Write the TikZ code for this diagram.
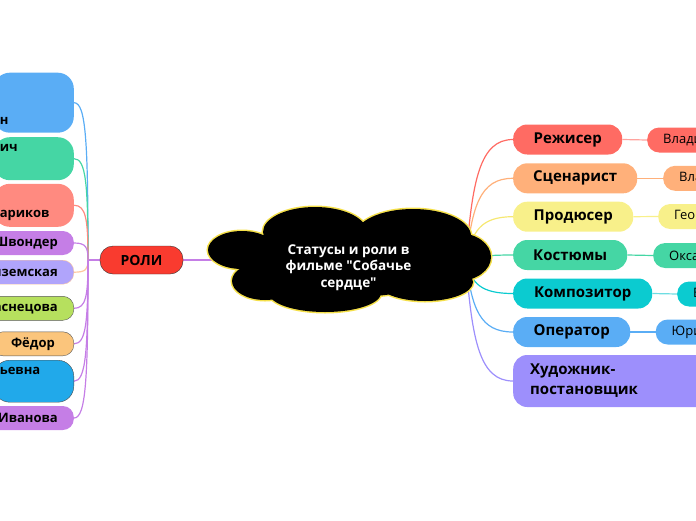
\documentclass[tikz,border=0pt]{standalone}
\usepackage{fontspec}
\setmainfont{Open Sans}[BoldFont={Open Sans Bold}, Ligatures=TeXOff]
\usepackage{tikz}
\usetikzlibrary{positioning, calc, backgrounds}

\definecolor{cRed}{HTML}{FF6B63}
\definecolor{cRedL}{HTML}{FFA39E}
\definecolor{cOrange}{HTML}{FFB07A}
\definecolor{cYellow}{HTML}{F8F08A}
\definecolor{cYellowL}{HTML}{F6E872}
\definecolor{cGreen}{HTML}{45D6A4}
\definecolor{cCyan}{HTML}{0BCBD0}
\definecolor{cCyanL}{HTML}{6EDDE2}
\definecolor{cBlue}{HTML}{5AADF5}
\definecolor{cViolet}{HTML}{9D8FFC}
\definecolor{lSalmon}{HTML}{FF8A80}
\definecolor{lPurple}{HTML}{C57EE6}
\definecolor{lLav}{HTML}{B0A4FB}
\definecolor{lLavB}{HTML}{FFC79E}
\definecolor{lLime}{HTML}{B6E05E}
\definecolor{lPeach}{HTML}{FBC57C}
\definecolor{lSky}{HTML}{21A9EA}
\definecolor{cRoli}{HTML}{F93B2F}
\definecolor{cloudEdge}{HTML}{F5E04A}

\begin{document}
\begin{tikzpicture}[x=1pt, y=-1pt,
        topic/.style={rectangle, rounded corners=14pt, minimum height=30pt, anchor=west, font=\fontsize{15}{20}\selectfont\bfseries},
        person/.style={rectangle, rounded corners=12pt, minimum height=25pt, inner xsep=16pt, anchor=west, font=\fontsize{13}{16}\selectfont},
        role/.style={rectangle, rounded corners=11pt, minimum height=24pt, inner xsep=16pt, anchor=east, font=\fontsize{13}{16}\selectfont\bfseries},
        rolebig/.style={role, rounded corners=16pt, inner xsep=6pt, text width=68pt, align=left},
        link/.style={line width=1.2pt},
        puffs/.style={insert path={
            (242,250) ellipse [x radius=34, y radius=19]
            (265,281) ellipse [x radius=33, y radius=19]
            (325,293) ellipse [x radius=56, y radius=19]
            (425,282) ellipse [x radius=48, y radius=19]
            (458,257) ellipse [x radius=33, y radius=24]
            (413,236) ellipse [x radius=58, y radius=27]
            (315,232) ellipse [x radius=52, y radius=25]
            (350,262) ellipse [x radius=105, y radius=35]}}
    ]
        \useasboundingbox (0,0) rectangle (696,520);

        % centre cloud
        \draw[cloudEdge, line width=3pt, puffs];
        \fill[black, puffs];
        \node[font=\fontsize{13.5}{16.5}\selectfont\bfseries, text=white, align=center] (theme) at (348.5,267.5) {Статусы и роли в\\фильме "Собачье\\сердце"};
        \node[rectangle, rounded corners=13pt, fill=cRoli, draw=black!80, minimum width=83pt, minimum height=28pt, font=\fontsize{14}{16}\selectfont\bfseries] (roli) at (141.5,260) {РОЛИ};

        % right side
        \node[topic, fill=cRed, minimum width=109pt] (rez) at (513,139.5) {Режисер};
        \node[topic, fill=cOrange, minimum width=124pt] (scen) at (513,178.3) {Сценарист};
        \node[topic, fill=cYellow, minimum width=120pt] (prod) at (513,216.7) {Продюсер};
        \node[topic, fill=cGreen, minimum width=114pt] (kost) at (513,255) {Костюмы};
        \node[topic, fill=cCyan, minimum width=139pt] (komp) at (513,293.5) {Композитор};
        \node[topic, fill=cBlue, minimum width=117pt] (oper) at (513,332) {Оператор};
        \node[topic, fill=cViolet, minimum height=52pt, inner xsep=17pt, text width=200pt, align=left] (hud) at (513,381) {Художник-\\постановщик};

        \node[person, fill=cRed] (bortko) at (647,140) {Владимир Бортко};
        \node[person, fill=cOrange] (bortkoS) at (663,178.3) {Владимир Бортко};
        \node[person, fill=cYellow] (georg) at (658,216.5) {Георгий};
        \node[person, fill=cGreen] (oksana) at (653,255.5) {Оксана};
        \node[person, fill=cCyan] (dashk) at (677,294) {Владимир Дашкевич};
        \node[person, fill=cBlue] (yuri) at (655.5,332) {Юрий Шайгарданов};

        % left side
        \node[rolebig, fill=cBlue, minimum height=60pt] (preob) at (74,102.7) {\strut\\\strut\\н};
        \node[rolebig, fill=cGreen, minimum height=43pt] (borm) at (74,158.7) {ич\\\strut};
        \node[rolebig, fill=lSalmon, minimum height=43pt] (shar) at (74,205.3) {\strut\\ариков};
        \node[role, fill=lPurple] (shvonder) at (74,243) {Швондер};
        \node[role, fill=lLav, draw=lLavB] (vyaz) at (74,272.2) {Вяземская};
        \node[role, fill=lLime, draw=gray!70!black] (vasn) at (74,308.3) {Васнецова};
        \node[role, fill=lPeach, draw=gray!70!black, inner xsep=19pt] (fedor) at (74,343.8) {Фёдор};
        \node[rolebig, fill=lSky, draw=black!70, minimum height=42pt] (zina) at (74,381.2) {ьевна\\\strut};
        \node[role, fill=lPurple] (ivan) at (74,418) {Иванова};

        \begin{scope}[on background layer]
            \coordinate (hub) at (466,262);
            \coordinate (trunk) at (88,260);
            \draw[link, draw=lPurple] (roli.east) -- (theme.center |- roli.east);
            \draw[link, draw=lPurple] (roli.west) -- (trunk);

            \draw[link, draw=cRed] (hub) .. controls ($(hub)!0.67!(hub|-rez.west)+(6,0)$) and ($(rez.west)+(-33,0)$) .. (rez.west);
            \draw[link, draw=cOrange] (hub) .. controls ($(hub)!0.67!(hub|-scen.west)+(6,0)$) and ($(scen.west)+(-33,0)$) .. (scen.west);
            \draw[link, draw=cYellowL] (hub) .. controls ($(hub)!0.67!(hub|-prod.west)+(6,0)$) and ($(prod.west)+(-33,0)$) .. (prod.west);
            \draw[link, draw=cGreen] (hub) .. controls ($(hub)!0.67!(hub|-kost.west)+(6,0)$) and ($(kost.west)+(-33,0)$) .. (kost.west);
            \draw[link, draw=cCyan] (hub) .. controls ($(hub)!0.67!(hub|-komp.west)+(6,0)$) and ($(komp.west)+(-33,0)$) .. (komp.west);
            \draw[link, draw=cBlue] (hub) .. controls ($(hub)!0.67!(hub|-oper.west)+(6,0)$) and ($(oper.west)+(-33,0)$) .. (oper.west);
            \draw[link, draw=cViolet] (hub) .. controls ($(hub)!0.67!(hub|-hud.west)+(6,0)$) and ($(hud.west)+(-33,0)$) .. (hud.west);

            \draw[link, draw=cRedL] (rez.east) -- (bortko.west);
            \draw[link, draw=cOrange] (scen.east) -- (bortkoS.west);
            \draw[link, draw=cYellow] (prod.east) -- (georg.west);
            \draw[link, draw=cGreen] (kost.east) -- (oksana.west);
            \draw[link, draw=cCyanL] (komp.east) -- (dashk.west);
            \draw[link, draw=cBlue] (oper.east) -- (yuri.west);

            \draw[link, draw=cBlue] (preob.east) .. controls +(12,0) and ($(trunk)!0.75!(trunk|-preob.east)$) .. (trunk);
            \draw[link, draw=cGreen] (borm.east) .. controls +(12,0) and ($(trunk)!0.75!(trunk|-borm.east)$) .. (trunk);
            \draw[link, draw=lSalmon] (shar.east) .. controls +(12,0) and ($(trunk)!0.75!(trunk|-shar.east)$) .. (trunk);
            \draw[link, draw=lPurple] (shvonder.east) .. controls +(12,0) and ($(trunk)!0.75!(trunk|-shvonder.east)$) .. (trunk);
            \draw[link, draw=lLavB] (vyaz.east) .. controls +(12,0) and ($(trunk)!0.75!(trunk|-vyaz.east)$) .. (trunk);
            \draw[link, draw=lPurple] (vasn.east) .. controls +(12,0) and ($(trunk)!0.75!(trunk|-vasn.east)$) .. (trunk);
            \draw[link, draw=lPurple] (fedor.east) .. controls +(12,0) and ($(trunk)!0.75!(trunk|-fedor.east)$) .. (trunk);
            \draw[link, draw=lPurple] (zina.east) .. controls +(12,0) and ($(trunk)!0.75!(trunk|-zina.east)$) .. (trunk);
            \draw[link, draw=lPurple] (ivan.east) .. controls +(12,0) and ($(trunk)!0.75!(trunk|-ivan.east)$) .. (trunk);
        \end{scope}
    \end{tikzpicture}
\end{document}
